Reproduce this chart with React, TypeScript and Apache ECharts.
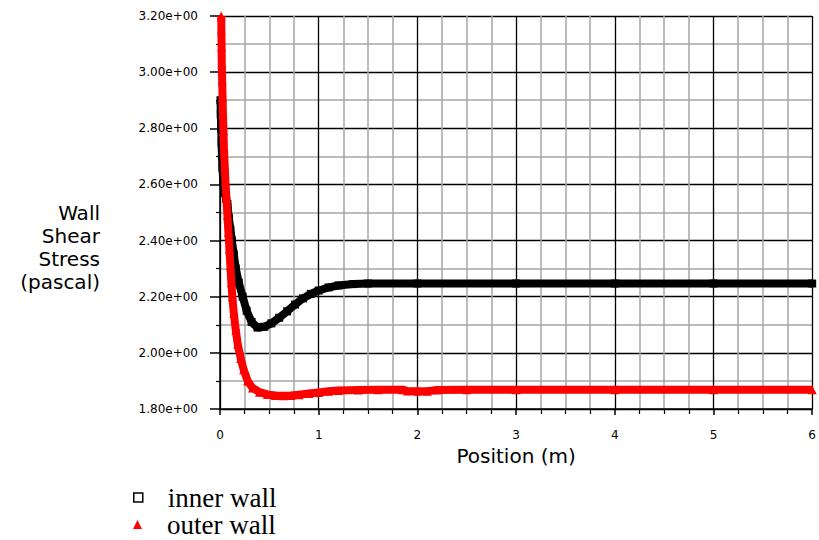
import React, { useEffect, useRef } from "react";
import * as echarts from "echarts";

// ---- data ----
const innerX = [0.005, 0.008, 0.012, 0.016, 0.02, 0.025, 0.032, 0.04, 0.05, 0.062, 0.075, 0.09, 0.105, 0.12, 0.14, 0.16, 0.19, 0.23, 0.27, 0.32, 0.38, 0.45, 0.52, 0.6, 0.68, 0.76, 0.84, 0.92, 1.0, 1.1, 1.2, 1.35, 1.5, 2.0, 3.0, 4.0, 5.0, 6.0];
const innerY = [2.9, 2.85, 2.8, 2.75, 2.7, 2.66, 2.62, 2.59, 2.57, 2.55, 2.53, 2.48, 2.44, 2.4, 2.35, 2.3, 2.25, 2.2, 2.15, 2.11, 2.09, 2.093, 2.105, 2.125, 2.148, 2.172, 2.194, 2.21, 2.222, 2.233, 2.24, 2.245, 2.247, 2.247, 2.247, 2.247, 2.247, 2.247];

const outerX = [0.012, 0.014, 0.016, 0.018, 0.022, 0.026, 0.03, 0.035, 0.04, 0.047, 0.055, 0.065, 0.075, 0.085, 0.095, 0.105, 0.115, 0.125, 0.14, 0.16, 0.18, 0.21, 0.24, 0.28, 0.33, 0.4, 0.48, 0.56, 0.64, 0.72, 0.8, 0.9, 1.0, 1.1, 1.2, 1.4, 1.6, 1.85, 1.9, 2.0, 2.1, 2.2, 2.5, 3.0, 4.0, 5.0, 6.0];
const outerY = [3.2, 3.15, 3.09, 3.03, 2.97, 2.91, 2.85, 2.79, 2.73, 2.67, 2.61, 2.55, 2.49, 2.43, 2.37, 2.31, 2.25, 2.2, 2.14, 2.08, 2.03, 1.98, 1.94, 1.9, 1.875, 1.86, 1.852, 1.848, 1.847, 1.848, 1.851, 1.855, 1.859, 1.863, 1.866, 1.868, 1.869, 1.869, 1.864, 1.863, 1.863, 1.868, 1.869, 1.869, 1.869, 1.869, 1.869];

const seriesNames = ["inner wall", "outer wall"];
const xAxisTitle = "Position (m)";
const yAxisTitleLines = ["Wall", "Shear", "Stress", "(pascal)"];
const xMin = 0, xMax = 6, xStep = 1;
const yMin = 1.8, yMax = 3.2, yStep = 0.2;

function sci(v: number): string {
  if (v === 0) return "0.00e+00";
  const e = Math.floor(Math.log10(Math.abs(v)) + 1e-9);
  const m = v / Math.pow(10, e);
  return `${m.toFixed(2)}e${e < 0 ? "-" : "+"}${String(Math.abs(e)).padStart(2, "0")}`;
}

export default function App() {
  const ref = useRef<HTMLDivElement>(null);
  useEffect(() => {
    if (!ref.current) return;
    const chart = echarts.init(ref.current, undefined, { renderer: "svg" });
    const inner = innerX.map((x, i) => [x, innerY[i]]);
    const outer = outerX.map((x, i) => [x, outerY[i]]);
    const tickFont = { fontFamily: "DejaVu Sans", fontSize: 12, color: "#000" };
    const legendBase = {
      orient: "vertical",
      left: 133,
      padding: 0,
      itemWidth: 9,
      itemHeight: 9,
      selectedMode: false,
      textStyle: {
        fontFamily: "Liberation Serif",
        fontSize: 27,
        lineHeight: 25,
        color: "#000",
        padding: [0, 0, 0, 20],
      },
    };
    chart.setOption({
      animation: false,
      backgroundColor: "#fff",
      grid: { left: 220, right: 1, top: 16, bottom: 131, containLabel: false },
      xAxis: {
        type: "value",
        min: xMin,
        max: xMax,
        interval: xStep,
        name: xAxisTitle,
        nameLocation: "middle",
        nameGap: 34,
        nameTextStyle: { fontFamily: "DejaVu Sans", fontSize: 20, color: "#000" },
        axisLine: { show: true, onZero: false, lineStyle: { color: "#000", width: 1.5 } },
        axisTick: { show: true, inside: false, length: 6, lineStyle: { color: "#000", width: 1.5 } },
        minorTick: { show: true, splitNumber: 4, length: 5, lineStyle: { color: "#000", width: 1.2 } },
        axisLabel: { ...tickFont, margin: 20 },
        splitLine: { show: true, lineStyle: { color: "#000", width: 1.3 } },
        minorSplitLine: { show: true, lineStyle: { color: "#a6a6a6", width: 1.5 } },
      },
      yAxis: {
        type: "value",
        min: yMin,
        max: yMax,
        interval: yStep,
        axisLine: { show: true, onZero: false, lineStyle: { color: "#000", width: 1.5 } },
        axisTick: { show: true, inside: false, length: 10, lineStyle: { color: "#000", width: 1.5 } },
        minorTick: { show: true, splitNumber: 2, length: 4, lineStyle: { color: "#000", width: 1.2 } },
        axisLabel: { ...tickFont, margin: 22, formatter: (v: number) => sci(v) },
        splitLine: { show: true, lineStyle: { color: "#000", width: 1.3 } },
        minorSplitLine: { show: true, lineStyle: { color: "#a6a6a6", width: 1.5 } },
      },
      legend: [
        {
          ...legendBase,
          top: 484,
          data: [{ name: seriesNames[0], icon: "rect", itemStyle: { color: "#fff", borderColor: "#000", borderWidth: 1.5 } }],
        },
        {
          ...legendBase,
          top: 511,
          data: [{ name: seriesNames[1], icon: "triangle", itemStyle: { color: "#ff0000", borderWidth: 0 } }],
        },
      ],
      graphic: [
        {
          type: "text",
          x: 100,
          y: 201,
          style: {
            text: yAxisTitleLines.join("\n"),
            fontFamily: "DejaVu Sans",
            fontSize: 20,
            lineHeight: 23,
            fill: "#000",
            align: "right",
            verticalAlign: "top",
          },
        },
      ],
      series: [
        {
          name: seriesNames[0],
          type: "line",
          data: inner,
          symbol: "rect",
          symbolSize: 8,
          showSymbol: true,
          itemStyle: { color: "#000" },
          lineStyle: { color: "#000", width: 8 },
          z: 3,
        },
        {
          name: seriesNames[1],
          type: "line",
          data: outer,
          symbol: "triangle",
          symbolSize: 9,
          showSymbol: true,
          itemStyle: { color: "#ff0000" },
          lineStyle: { color: "#ff0000", width: 8 },
          z: 4,
        },
      ],
    });
    return () => chart.dispose();
  }, []);
  return (
    <div
      ref={ref}
      style={{ position: "fixed", left: 0, top: 0, width: 819, height: 540, background: "#fff" }}
    />
  );
}
